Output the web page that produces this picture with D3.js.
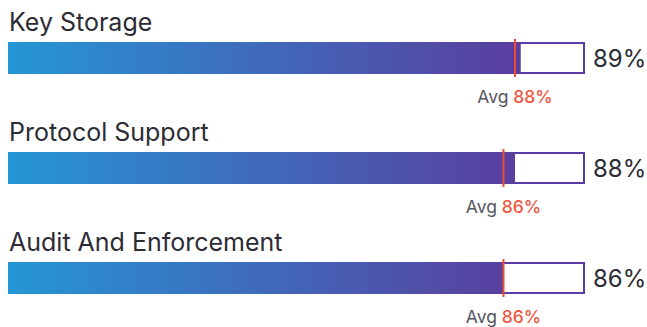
<!DOCTYPE html>
<html>
<head>
<meta charset="utf-8">
<script src="https://cdn.jsdelivr.net/npm/d3@7"></script>
<style>
  html, body { margin: 0; padding: 0; background: #fff; }
  svg { display: block; font-family: Inter, Roboto, "Noto Sans", sans-serif; }
</style>
</head>
<body>
<svg id="chart" width="647" height="327"></svg>
<script>
// Category scores and peer averages
const categories = ["Key Storage", "Protocol Support", "Audit And Enforcement"];
const scores = [89, 88, 86];
const averages = [88, 86, 86];

const width = 647, height = 327;
const svg = d3.select("#chart");

const x = d3.scaleLinear().domain([0, 100]).range([9, 584]);
const row = d3.scaleBand().domain(categories).range([0, 330]).paddingInner(0);
const barTop = 43, barH = 30;

const defs = svg.append("defs");
const grad = defs.append("linearGradient")
  .attr("id", "barFill")
  .attr("gradientUnits", "userSpaceOnUse")
  .attr("x1", x(0)).attr("x2", x(88)).attr("y1", 0).attr("y2", 0);
grad.append("stop").attr("offset", "0%").attr("stop-color", "#2596d5");
grad.append("stop").attr("offset", "100%").attr("stop-color", "#5a3e9f");

const data = categories.map((c, i) => ({ name: c, score: scores[i], avg: averages[i] }));

const g = svg.selectAll("g.row").data(data).join("g")
  .attr("class", "row")
  .attr("transform", d => `translate(0,${row(d.name)})`);

// category title
g.append("text")
  .attr("x", 9).attr("y", 31)
  .attr("font-size", 25)
  .attr("font-weight", 400)
  .attr("fill", "#2c2c34")
  .text(d => d.name);

// full track outline
g.append("rect")
  .attr("x", x(0)).attr("y", barTop)
  .attr("width", x(100) - x(0)).attr("height", barH)
  .attr("fill", "#fff")
  .attr("stroke", "#5b3ba6").attr("stroke-width", 2);

// score fill
g.append("rect")
  .attr("x", x(0) - 1).attr("y", barTop - 1)
  .attr("width", d => x(d.score) - x(0) + 1).attr("height", barH + 2)
  .attr("fill", "url(#barFill)");

// average marker
g.append("line")
  .attr("x1", d => x(d.avg)).attr("x2", d => x(d.avg))
  .attr("y1", barTop - 4).attr("y2", barTop + barH + 4)
  .attr("stroke", "#f04b35").attr("stroke-width", 2);

// score value
g.append("text")
  .attr("x", 593).attr("y", barTop + 24)
  .attr("font-size", 24)
  .attr("font-weight", 400)
  .attr("fill", "#2c2c34")
  .text(d => d.score + "%");

// average label
const avgLabel = g.append("text")
  .attr("x", d => x(d.avg)).attr("y", barTop + 60)
  .attr("text-anchor", "middle")
  .attr("font-size", 17.5)
  .attr("font-weight", 400);
avgLabel.append("tspan").attr("fill", "#55555c").text("Avg ");
avgLabel.append("tspan").attr("fill", "#f2553d").attr("font-weight", 500).text(d => d.avg + "%");
</script>
</body>
</html>
